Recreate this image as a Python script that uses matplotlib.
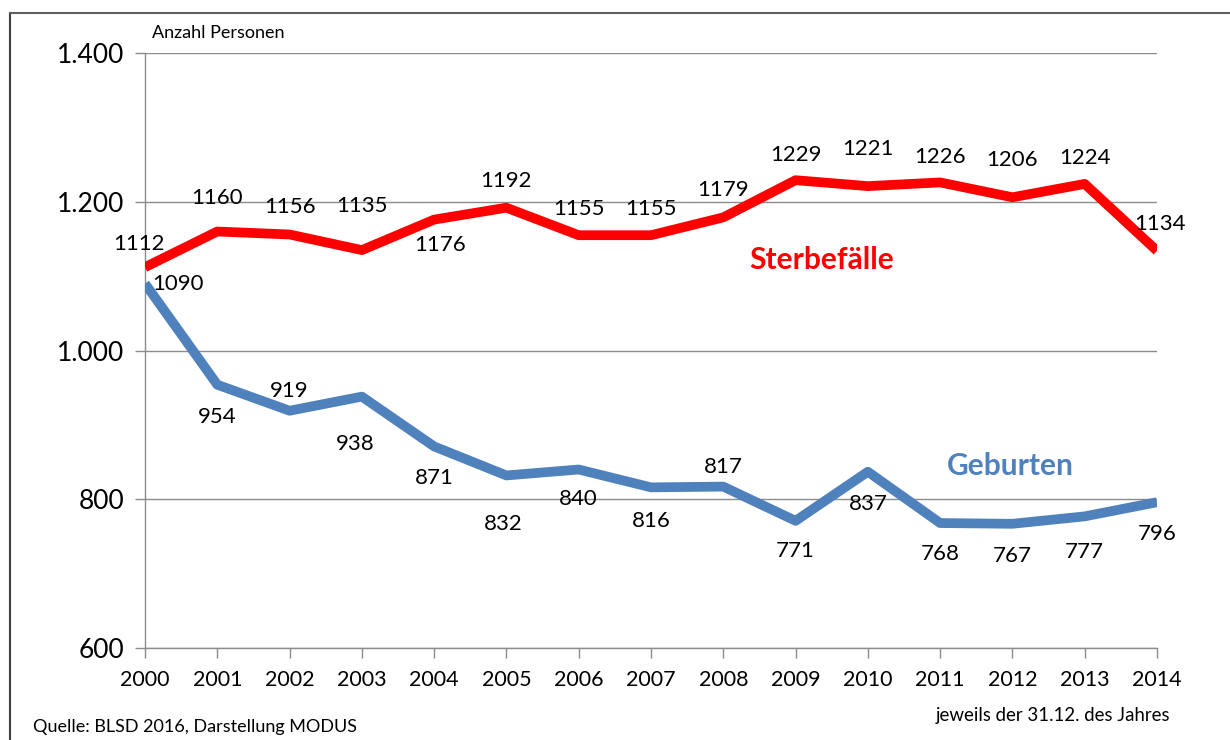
import numpy as np
import matplotlib
matplotlib.use('Agg')
import matplotlib.pyplot as plt
from matplotlib.lines import Line2D

plt.rcParams['font.family'] = ['Lato', 'DejaVu Sans']

jahre = list(range(2000, 2015))
sterbefaelle = [1112, 1160, 1156, 1135, 1176, 1192, 1155, 1155, 1179, 1229, 1221, 1226, 1206, 1224, 1134]
geburten = [1090, 954, 919, 938, 871, 832, 840, 816, 817, 771, 837, 768, 767, 777, 796]
y_ticks = [600, 800, 1000, 1200, 1400]
y_ticklabels = ['600', '800', '1.000', '1.200', '1.400']

# label offsets in points (dx, dy), as the spreadsheet placed them
off_rot = [(-4, 17), (0, 24), (0, 20), (0, 32), (4, -18), (0, 19), (0, 19), (0, 19),
           (0, 20), (0, 18), (0, 27), (0, 18), (0, 27), (0, 19), (2, 19)]
off_blau = [(24, 0), (0, -23), (0, 14), (-5, -34), (0, -23), (-2, -35), (0, -21), (0, -24),
            (0, 14), (0, -22), (0, -23), (0, -22), (0, -23), (0, -26), (0, -23)]

rot = '#FF0000'
blau = '#4F81BD'

fig = plt.figure(figsize=(12.3, 7.4), dpi=100)
ax = fig.add_axes([145 / 1230, 1 - 648 / 740, (1157 - 145) / 1230, (648 - 53) / 740])

ax.plot(jahre, sterbefaelle, color=rot, lw=7, solid_capstyle='butt', solid_joinstyle='round', zorder=3)
ax.plot(jahre, geburten, color=blau, lw=7, solid_capstyle='butt', solid_joinstyle='round', zorder=3)

for x, y, (dx, dy) in zip(jahre, sterbefaelle, off_rot):
    ax.annotate(str(y), (x, y), xytext=(dx, dy), textcoords='offset points',
                ha='center', va='center', fontsize=16, color='black', zorder=4)
for x, y, (dx, dy) in zip(jahre, geburten, off_blau):
    ax.annotate(str(y), (x, y), xytext=(dx, dy), textcoords='offset points',
                ha='center', va='center', fontsize=16, color='black', zorder=4)

ax.set_xlim(2000, 2014)
ax.set_ylim(600, 1400)
ax.set_xticks(jahre)
ax.set_xticklabels([str(j) for j in jahre], fontsize=15.5)
ax.set_yticks(y_ticks)
ax.set_yticklabels(y_ticklabels, fontsize=19)
ax.grid(axis='y', color='#8C8C8C', lw=1)
ax.set_axisbelow(True)
for s in ['top', 'right']:
    ax.spines[s].set_visible(False)
for s in ['left', 'bottom']:
    ax.spines[s].set_color('#8C8C8C')
    ax.spines[s].set_linewidth(1)
ax.tick_params(axis='y', length=7, width=1, color='#8C8C8C', pad=8)
ax.tick_params(axis='x', length=7, width=1, color='#8C8C8C', pad=9)

fig.text(822 / 1230, 1 - 260 / 740, 'Sterbefälle', color=rot, fontsize=21.5, fontweight='bold',
         ha='center', va='center')
fig.text(1010 / 1230, 1 - 466 / 740, 'Geburten', color=blau, fontsize=21.5, fontweight='bold',
         ha='center', va='center')

fig.text(152 / 1230, 1 - 33 / 740, 'Anzahl Personen', fontsize=13, ha='left', va='center')
fig.text(33 / 1230, 1 - 727 / 740, 'Quelle: BLSD 2016, Darstellung MODUS', fontsize=13,
         ha='left', va='center')
fig.text(1170 / 1230, 1 - 716 / 740, 'jeweils der 31.12. des Jahres', fontsize=13.4,
         ha='right', va='center')

# outer frame (top and left edge)
fig.add_artist(Line2D([10 / 1230, 10 / 1230], [0, 1 - 13 / 740], transform=fig.transFigure,
                      color='#404040', lw=1.5))
fig.add_artist(Line2D([10 / 1230, 1], [1 - 13 / 740, 1 - 13 / 740], transform=fig.transFigure,
                      color='#606060', lw=1.5))

fig.savefig('out.png', dpi=100)
